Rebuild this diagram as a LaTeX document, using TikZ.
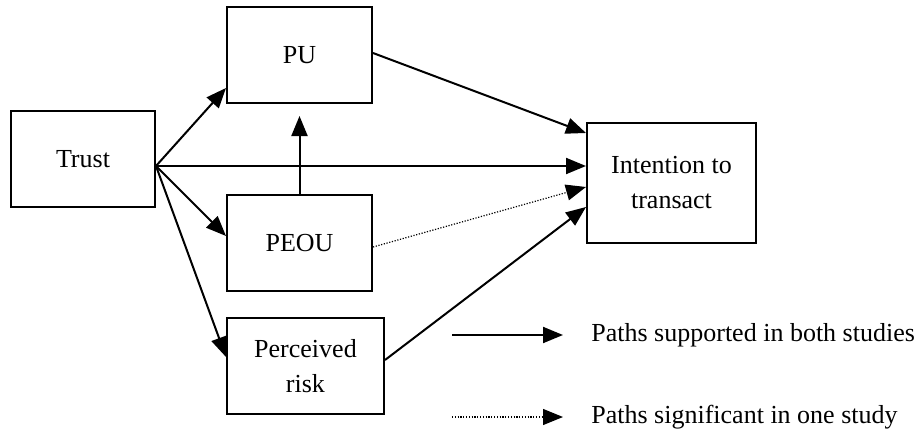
\documentclass[tikz,border=0pt]{standalone}
\usepackage{fontspec}
\setmainfont{Liberation Serif}
\usetikzlibrary{arrows.meta}

\begin{document}
\begin{tikzpicture}[x=0.5pt, y=-0.5pt, >={Triangle[length=10pt, width=8pt]},
    box/.style={draw, line width=1pt, minimum height=48pt, align=center,
      font=\fontsize{13}{17.5}\selectfont, inner sep=0pt},
    path/.style={->, line width=1pt},
    weakpath/.style={->, line width=0.6pt, dash pattern=on 0.6pt off 0.8pt}]
      \useasboundingbox (0,0) rectangle (923,439);
      % constructs
      \node[box, minimum width=72pt] (trust) at (83,159) {Trust};
      \node[box, minimum width=72.5pt] (pu) at (299.5,55) {PU};
      \node[box, minimum width=72.5pt] (peou) at (299.5,243) {PEOU};
      \node[box, minimum width=78.5pt] (risk) at (305.5,366) {Perceived\\risk};
      \node[box, minimum width=84.5pt, minimum height=60pt] (intent) at (671.5,183) {Intention to\\transact};
      % paths
      \draw[path] ([yshift=-3.5pt]trust.east) -- ([yshift=-16.5pt]pu.west);
      \draw[path] ([yshift=-3.5pt]trust.east) -- ([yshift=3.5pt]peou.west);
      \draw[path] ([yshift=-3.5pt]trust.east) -- ([yshift=4.5pt]risk.west);
      \draw[path] ([yshift=-3.5pt]trust.east) -- ([yshift=8.5pt]intent.west);
      \draw[path] (peou.north) -- ([yshift=-6pt]pu.south);
      \draw[path] ([yshift=1pt]pu.east) -- ([yshift=25pt]intent.west);
      \draw[weakpath] ([yshift=-2pt]peou.east) -- ([yshift=-2pt]intent.west);
      \draw[path] ([yshift=3pt]risk.east) -- ([yshift=-12pt]intent.west);
      % legend
      \coordinate (solidA) at (452,335);
      \coordinate (solidB) at (563,335);
      \coordinate (dotA) at (452,417);
      \coordinate (dotB) at (563,417);
      \draw[path] (solidA) -- (solidB);
      \draw[weakpath] (dotA) -- (dotB);
      \node[anchor=west, inner sep=0pt, font=\fontsize{13}{17.5}\selectfont] (legsolid) at (591,335) {Paths supported in both studies};
      \node[anchor=west, inner sep=0pt, font=\fontsize{13}{17.5}\selectfont] (legdot) at (591,417) {Paths significant in one study};
\end{tikzpicture}
\end{document}
